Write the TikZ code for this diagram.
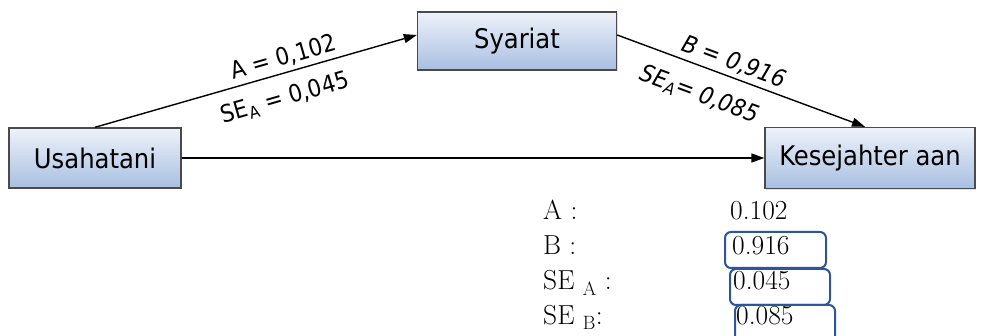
\documentclass[tikz,border=0pt]{standalone}
\usepackage{fontspec}
\newfontfamily\boxfont{DejaVu Sans Condensed}
\usetikzlibrary{arrows.meta,shadows}

\definecolor{boxtop}{HTML}{EEF2FA}
\definecolor{boxbottom}{HTML}{A8BFE1}
\definecolor{boxline}{HTML}{4A4A4A}
\definecolor{markblue}{HTML}{2E5597}

\tikzset{
    var/.style={draw=boxline, line width=1.4pt, top color=boxtop, bottom color=boxbottom,
        drop shadow={opacity=0.25, shadow xshift=1.2pt, shadow yshift=-1.2pt},
        font=\boxfont\fontsize{27}{30}\selectfont, inner sep=0pt},
    link/.style={line width=1.4pt, -{Triangle[length=13pt,width=9pt]}},
    coef/.style={font=\boxfont\fontsize{24}{27}\selectfont, sloped, inner sep=0pt},
    rowtext/.style={anchor=base west, inner sep=0pt, font=\fontsize{27.5}{30}\selectfont},
    valbox/.style={draw=markblue, line width=2pt, rounded corners=6pt}
}

\begin{document}
\begin{tikzpicture}[x=1pt, y=-1pt]
    \useasboundingbox (0,0) rectangle (983,336);

    \node[var, minimum width=172pt, minimum height=60pt] at (95,158)(usaha){Usahatani};
    \node[var, minimum width=199pt, minimum height=58pt] at (517,41)(syariat){Syariat};
    \node[var, minimum width=210pt, minimum height=61pt] at (870,158)(sejahtera){Kesejahter aan};

    % jalur a dan b
    \draw[link] (usaha.north) -- ([yshift=6pt]syariat.west)
        node[coef, pos=0.6, above=4pt]{A = 0,102}
        node[coef, pos=0.57, below=13pt]{SE\textsubscript{A} = 0,045};
    \draw[link] ([yshift=6pt]syariat.east) -- ([xshift=-5pt]sejahtera.north)
        node[coef, pos=0.45, above=4pt]{\itshape B = 0,916}
        node[coef, pos=0.37, below=16pt]{\itshape SE\textsubscript{A}= 0,085};
    % jalur langsung
    \draw[link] (usaha.east) -- (sejahtera.west);

    % ringkasan nilai
    \node[rowtext] at (543,220)(ka){A :};
    \node[rowtext] at (543,255)(kb){B :};
    \node[rowtext] at (543,290)(ksa){SE \textsubscript{A} :};
    \node[rowtext] at (543,325)(ksb){SE \textsubscript{B}:};
    \node[rowtext] at (730,220)(va){0.102};
    \node[rowtext] at (732,255)(vb){0.916};
    \node[rowtext] at (733,290)(vsa){0.045};
    \node[rowtext] at (736,325)(vsb){0.085};

    \draw[valbox] (725,232) rectangle (826,268);
    \draw[valbox] (730,269) rectangle (830,305);
    \draw[valbox] (735,305) rectangle (835,350);
\end{tikzpicture}
\end{document}
